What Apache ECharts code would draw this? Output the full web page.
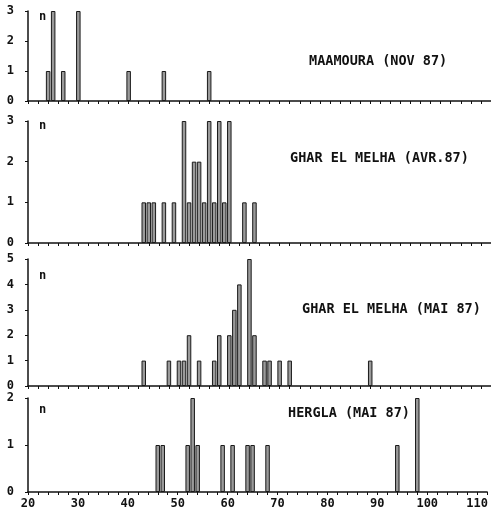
<!DOCTYPE html>
<html><head><meta charset="utf-8">
<script src="https://cdn.jsdelivr.net/npm/echarts@6/dist/echarts.min.js"></script>
<style>html,body{margin:0;padding:0;background:#fff}#c{width:491px;height:511px}</style>
</head><body><div id="c"></div>
<script>
// Panel titles
const panelTitles = ['MAAMOURA (NOV 87)', 'GHAR EL MELHA (AVR.87)', 'GHAR EL MELHA (MAI 87)', 'HERGLA (MAI 87)'];
// Length classes and counts (n) for each panel
const maamouraX = [24, 25, 27, 30, 40, 47, 56];
const maamouraN = [1, 3, 1, 3, 1, 1, 1];
const gharAvrX = [43, 44, 45, 47, 49, 51, 52, 53, 54, 55, 56, 57, 58, 59, 60, 63, 65];
const gharAvrN = [1, 1, 1, 1, 1, 3, 1, 2, 2, 1, 3, 1, 3, 1, 3, 1, 1];
const gharMaiX = [43, 48, 50, 51, 52, 54, 57, 58, 60, 61, 62, 64, 65, 67, 68, 70, 72, 88];
const gharMaiN = [1, 1, 1, 1, 2, 1, 1, 2, 2, 3, 4, 5, 2, 1, 1, 1, 1, 1];
const herglaX = [46, 47, 52, 53, 54, 59, 61, 64, 65, 68, 94, 98];
const herglaN = [1, 1, 1, 2, 1, 1, 1, 1, 1, 1, 1, 2];
// Axis ranges
const xMin = 20, xMax = 112, xStep = 10;
const yMaxes = [3, 3, 5, 2];

const panelsX = [maamouraX, gharAvrX, gharMaiX, herglaX];
const panelsN = [maamouraN, gharAvrN, gharMaiN, herglaN];

const FONT = '"DejaVu Sans Mono", monospace';
const grids = [
  {left: 28, right: 0, top: 11, height: 90},
  {left: 28, right: 0, top: 121, height: 122},
  {left: 28, right: 0, top: 259, height: 127},
  {left: 28, right: 0, top: 398, height: 94}
];
const titlePos = [
  {left: 304, top: 49},
  {left: 285, top: 146},
  {left: 297, top: 297},
  {left: 283, top: 401}
];
const nPos = [{left: 34, top: 6}, {left: 34, top: 115}, {left: 34, top: 265}, {left: 34, top: 399}];

const option = {
  animation: false,
  backgroundColor: '#fff',
  grid: grids,
  title: [
    ...panelTitles.map((t, i) => ({text: t, left: titlePos[i].left, top: titlePos[i].top,
      textStyle: {fontFamily: FONT, fontSize: 13.5, fontWeight: 'bold', color: '#111'}})),
    ...nPos.map(p => ({text: 'n', left: p.left, top: p.top,
      textStyle: {fontFamily: FONT, fontSize: 12, fontWeight: 'bold', color: '#111'}}))
  ],
  xAxis: grids.map((g, i) => ({
    type: 'value', gridIndex: i, min: xMin, max: xMax, interval: xStep,
    axisLine: {show: true, lineStyle: {color: '#111', width: 1.5}},
    axisTick: {show: true, length: 3, lineStyle: {color: '#111'}},
    minorTick: {show: true, splitNumber: 5, length: 3, lineStyle: {color: '#111'}},
    splitLine: {show: false},
    axisLabel: {show: i === 3, margin: 6, fontFamily: FONT, fontSize: 12, fontWeight: 'bold', color: '#111',
      formatter: v => (v % 10 === 0 && v <= 110) ? String(v) : ''}
  })),
  yAxis: grids.map((g, i) => ({
    type: 'value', gridIndex: i, min: 0, max: yMaxes[i], interval: 1,
    axisLine: {show: true, lineStyle: {color: '#111', width: 1.5}},
    axisTick: {show: true, length: 3, lineStyle: {color: '#111'}},
    splitLine: {show: false},
    axisLabel: {margin: 14, fontFamily: FONT, fontSize: 12, fontWeight: 'bold', color: '#111'}
  })),
  series: panelsX.map((xs, i) => ({
    type: 'bar', xAxisIndex: i, yAxisIndex: i, barWidth: 4.5,
    data: xs.map((x, k) => [x, panelsN[i][k]]),
    itemStyle: {color: '#9a9a9a', borderColor: '#1a1a1a', borderWidth: 1}
  }))
};
echarts.init(document.getElementById('c')).setOption(option);
</script></body></html>
